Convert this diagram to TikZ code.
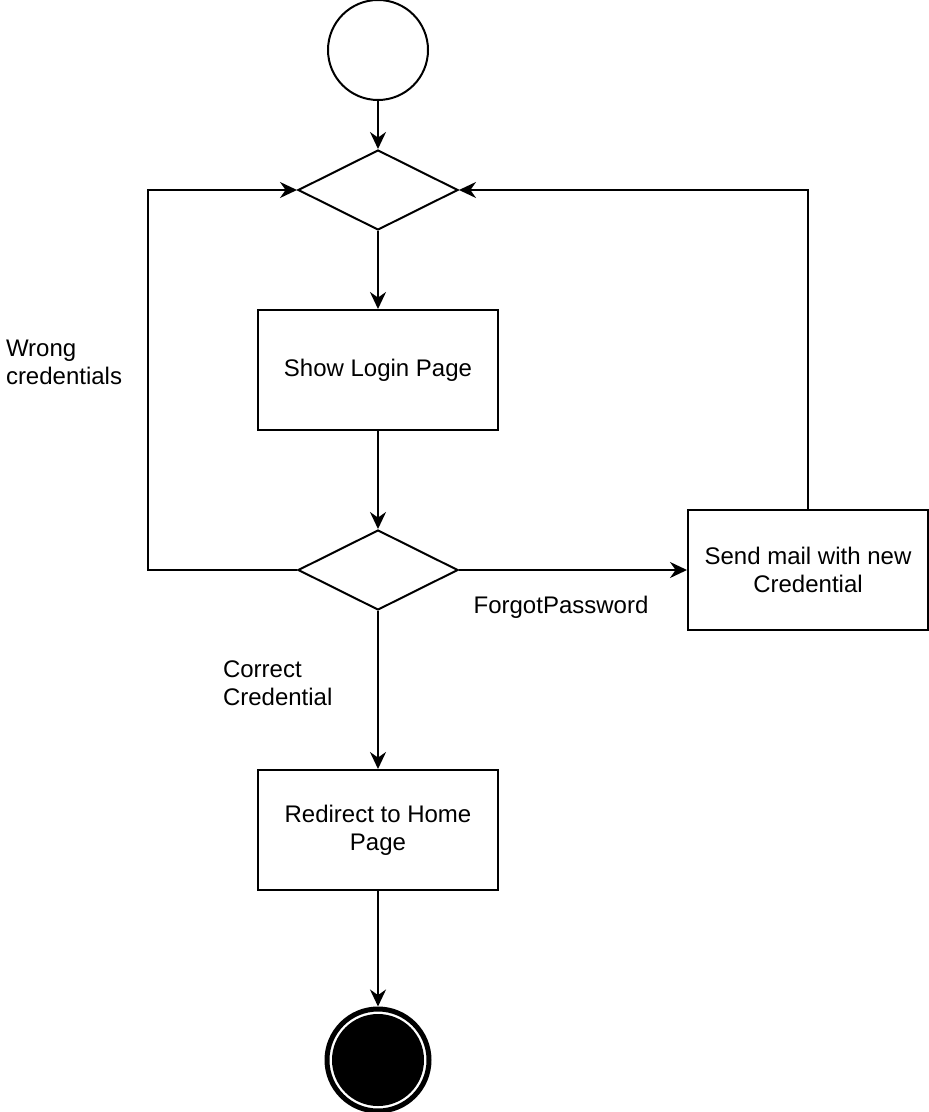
\documentclass[tikz,border=0pt]{standalone}
\usepackage{fontspec}
\setmainfont{Liberation Sans}
\usetikzlibrary{shapes.geometric}
\usetikzlibrary{arrows.meta}

\begin{document}
\begin{tikzpicture}[x=0.5pt,y=-0.5pt,line width=1pt,
    every node/.style={font=\fontsize{12pt}{14pt}\selectfont},
    action/.style={draw,rectangle,minimum width=120pt,minimum height=60pt,align=center,inner sep=2pt},
    choice/.style={draw,diamond,aspect=2,minimum width=80pt,minimum height=40pt,inner sep=0pt},
    flow/.style={-{Stealth[length=8.5pt,width=8pt,inset=2.8pt]}},
    guard/.style={inner sep=0pt,align=left}]
  \useasboundingbox (0,0) rectangle (929,1112);

  \node[draw,circle,minimum size=50pt,inner sep=0pt] (start) at (378,50) {};
  \node[choice] (dec1) at (378,190) {};
  \node[action] (login) at (378,370) {Show Login Page};
  \node[choice] (dec2) at (378,570) {};
  \node[action] (sendmail) at (808,570) {Send mail with new\\Credential};
  \node[action] (redirect) at (378,830) {Redirect to Home\\Page};
  \node[draw,circle,minimum size=51pt,inner sep=0pt,line width=2.5pt] (stop) at (378,1060) {};
  \fill (stop.center) circle[radius=23pt];

  \node[guard,anchor=west] (wrong) at (5,362) {Wrong\\credentials};
  \node[guard,anchor=west] (correct) at (222,683) {Correct\\Credential};
  \node[guard] (forgot) at (561,607) {ForgotPassword};

  \coordinate (wrongcorner) at (148,570);

  \draw[flow] (start) -- (dec1);
  \draw[flow] (dec1) -- (login);
  \draw[flow] (login) -- (dec2);
  \draw[flow] (dec2.west) -- (wrongcorner) |- (dec1.west);
  \draw[flow] (dec2.east) -- (sendmail.west);
  \draw[flow] (sendmail.north) |- (dec1.east);
  \draw[flow] (dec2) -- (redirect);
  \draw[flow] (redirect) -- (stop);
\end{tikzpicture}
\end{document}
